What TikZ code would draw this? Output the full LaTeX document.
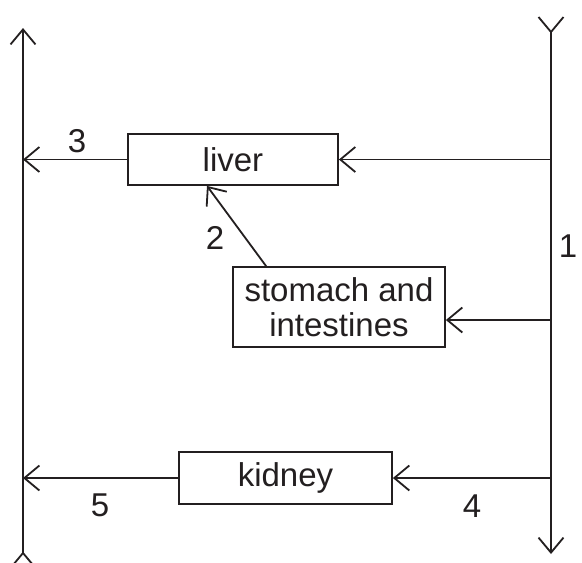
\documentclass[tikz,border=0pt]{standalone}
\usepackage{fontspec}
\setmainfont{Liberation Sans}
\usetikzlibrary{arrows.meta}
\definecolor{ink}{HTML}{231F20}
\begin{document}
\begin{tikzpicture}[x=1pt,y=-1pt,line width=1.8pt,draw=ink,text=ink,
  box/.style={draw,rectangle,inner sep=0pt,font=\fontsize{33}{35}\selectfont},
  arr/.style={-{Straight Barb[length=15pt,width=25pt,line width=1.8pt]}},
  lbl/.style={inner sep=0pt,font=\fontsize{33}{35}\selectfont},
  fork/.style={line join=miter}]
\clip (0,0) rectangle (582,563);
\fill[white] (0,0) rectangle (582,563);
% vertical lines
\coordinate (Ltop) at (23,28);
\coordinate (Lbot) at (23,553);
\coordinate (Rtop) at (551,32);
\coordinate (Rbot) at (551,554);
% boxes
\node[box,minimum width=210pt,minimum height=51pt] (liver) at (233,159.5) {liver};
\node[box,minimum width=212pt,minimum height=80pt,align=center] (stomach) at (339,307) {stomach and\\intestines};
\node[box,minimum width=213pt,minimum height=52pt] (kidney) at (285.5,478) {kidney};
% main vertical arrows
\draw[arr] (Lbot) -- (Ltop);
\draw[fork] ([shift={(-12.5,15)}]Lbot) -- (Lbot) -- ([shift={(12.5,15)}]Lbot);
\draw[arr] (Rtop) -- (Rbot);
\draw[fork] ([shift={(-12.5,-15)}]Rtop) -- (Rtop) -- ([shift={(12.5,-15)}]Rtop);
% connectors
\draw[arr] (liver.east -| Rtop) -- (liver.east);
\draw[arr] (liver.west) -- (liver.west -| Ltop);
\draw[arr] ([xshift=34pt]stomach.north west) -- ([xshift=-26pt]liver.south);
\draw[arr] ([yshift=-13pt]stomach.east -| Rtop) -- ([yshift=-13pt]stomach.east);
\draw[arr] (kidney.east -| Rtop) -- (kidney.east);
\draw[arr] (kidney.west) -- (kidney.west -| Ltop);
% labels
\node[lbl] (n1) at (568,246) {1};
\node[lbl] (n2) at (215,238) {2};
\node[lbl] (n3) at (77,141) {3};
\node[lbl] (n4) at (472,506) {4};
\node[lbl] (n5) at (100,505) {5};
\end{tikzpicture}
\end{document}
